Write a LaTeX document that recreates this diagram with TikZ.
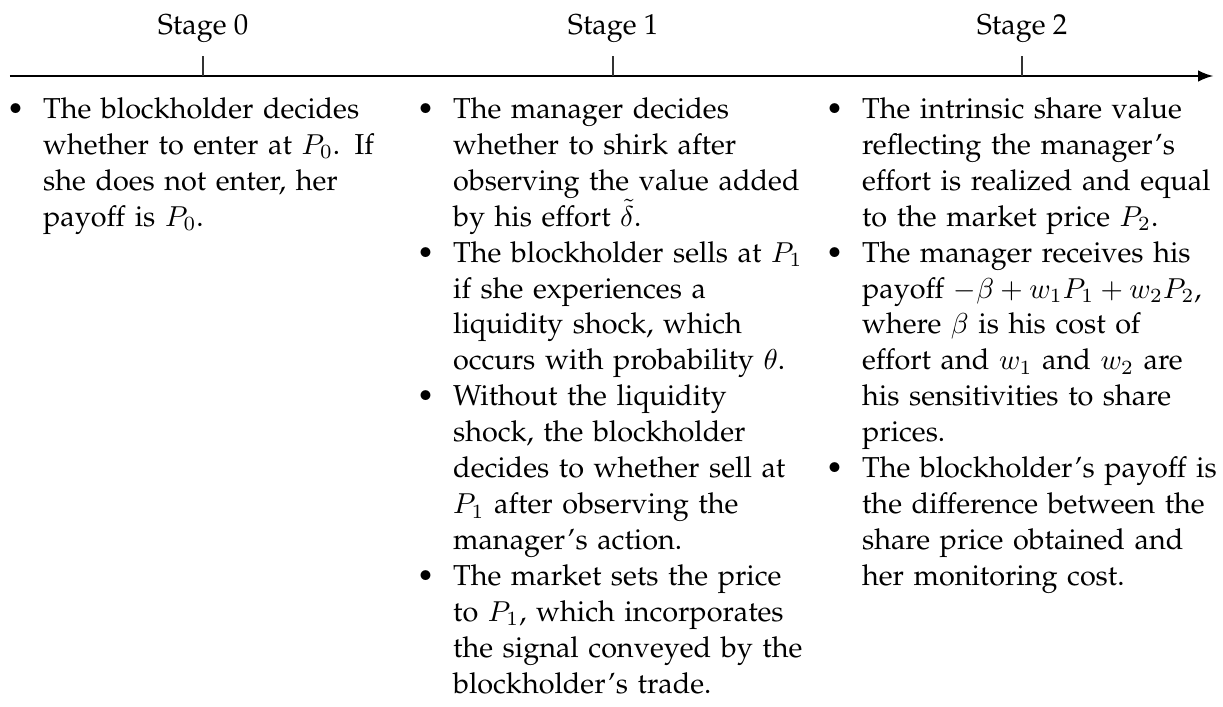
\documentclass[tikz,border=0pt]{standalone}
\usepackage[T1]{fontenc}
\usepackage{palatino}
\linespread{1.04}
\usetikzlibrary{positioning}

\setlength{\leftmargini}{11.5pt}
\setlength{\labelsep}{6.5pt}
\makeatletter
\def\@listI{\leftmargin\leftmargini \topsep\z@ \partopsep\z@ \parsep\z@ \itemsep\z@}
\let\@listi\@listI
\makeatother

\begin{document}
\begin{tikzpicture}
\tikzstyle{timeline}=[-latex, thick]
\tikzstyle{tick}=[thin, black!80]
\tikzstyle{stage}=[inner sep=3.33pt, node distance=1pt]
\tikzstyle{events}=[text width=4.9cm, inner sep=0pt, align=left, node distance=0.07cm, xshift=0.095cm]
    \path[use as bounding box] (0,0.927) rectangle (14.92,-7.698);
    \coordinate (L) at (0.122,0);
    \coordinate (R) at (14.80,0);
    \draw[timeline] (L) -- (R);
    % ticks
    \coordinate (T0) at (2.477,0);
    \coordinate (T1) at (7.479,0);
    \coordinate (T2) at (12.468,0);
    \coordinate (T0top) at (2.477,0.244);
    \coordinate (T1top) at (7.479,0.244);
    \coordinate (T2top) at (12.468,0.244);
    \draw[tick] (T0) -- (T0top);
    \draw[tick] (T1) -- (T1top);
    \draw[tick] (T2) -- (T2top);
    \node[stage] (S0) [above=of T0top] {Stage 0};
    \node[stage] (S1) [above=of T1top] {Stage 1};
    \node[stage] (S2) [above=of T2top] {Stage 2};
    % what happens at each stage
    \node[events] (E0) [below=of T0] {\begin{itemize}
        \item The blockholder decides\\ whether to enter at $P_0$. If\\ she does not enter, her\\ payoff is $P_0$.
    \end{itemize}};
    \node[events] (E1) [below=of T1] {\begin{itemize}
        \item The manager decides\\ whether to shirk after\\ observing the value added\\ by his effort $\tilde{\delta}$.
        \item The blockholder sells at $P_1$\\ if she experiences a\\ liquidity shock, which\\ occurs with probability $\theta$.
        \item Without the liquidity\\ shock, the blockholder\\ decides to whether sell at\\ $P_1$ after observing the\\ manager's action.
        \item The market sets the price\\ to $P_1$, which incorporates\\ the signal conveyed by the\\ blockholder's trade.
    \end{itemize}};
    \node[events] (E2) [below=of T2] {\begin{itemize}
        \item The intrinsic share value\\ reflecting the manager's\\ effort is realized and equal\\ to the market price $P_2$.
        \item The manager receives his\\ payoff $-\beta+w_1P_1+w_2P_2$,\\ where $\beta$ is his cost of\\ effort and $w_1$ and $w_2$ are\\ his sensitivities to share\\ prices.
        \item The blockholder's payoff is\\ the difference between the\\ share price obtained and\\ her monitoring cost.
    \end{itemize}};
\end{tikzpicture}
\end{document}
